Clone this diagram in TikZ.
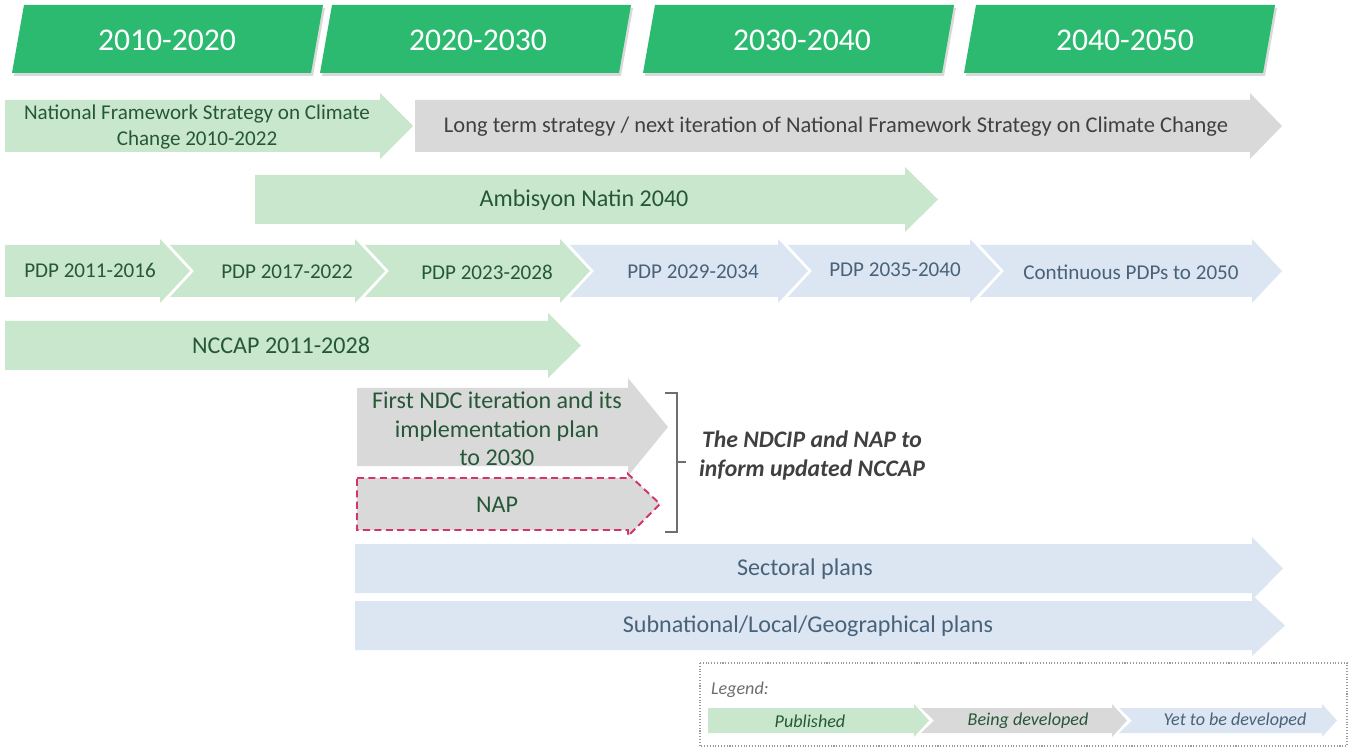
\documentclass[tikz,border=0pt]{standalone}
\usepackage{fontspec}
\setmainfont{Carlito}
\definecolor{hdr}{RGB}{44,186,112}
\definecolor{pub}{RGB}{200,231,205}
\definecolor{dev}{RGB}{217,217,217}
\definecolor{todo}{RGB}{220,230,242}
\definecolor{txtgreen}{RGB}{38,88,56}
\definecolor{txtblue}{RGB}{72,98,122}
\definecolor{txtgrey}{RGB}{64,64,64}
\definecolor{napred}{RGB}{214,51,108}
\definecolor{darkgrey}{RGB}{110,110,110}
\usepackage{tikz}
\usetikzlibrary{positioning}
\tikzstyle{base}=[x=0.02cm, y=-0.02cm, inner sep=0pt, outer sep=0pt]
\tikzstyle{period}=[text=white, font=\fontsize{18}{20}\selectfont]
\tikzstyle{lbl}=[text=txtgreen, font=\fontsize{12}{14.5}\selectfont, align=center]
\tikzstyle{big}=[font=\fontsize{13.7}{16.2}\selectfont]
\tikzstyle{lblblue}=[lbl, text=txtblue]
\tikzstyle{lblgrey}=[lbl, text=txtgrey]
\tikzstyle{legtxt}=[font=\fontsize{10.3}{12}\selectfont\itshape]
\newcommand*{\blockarrow}[7]{%
    \fill[#1] (#2,#5) -- (#3,#5) -- (#3,{#5-#7}) -- (#4,{(#5+#6)/2})
        -- (#3,{#6+#7}) -- (#3,#6) -- (#2,#6) -- cycle;}
\newcommand*{\chevbox}[8]{%
    \fill[#1] (#2,#5) -- (#3,#5) -- (#3,{#5-#7}) -- (#4,{(#5+#6)/2})
        -- (#3,{#6+#7}) -- (#3,#6) -- (#2,#6) -- ({#2+#8},{(#5+#6)/2}) -- cycle;}
\newcommand*{\period}[1]{%
    \fill[black, opacity=0.15] (#1+2,76) -- (#1+14,8) -- (#1+313,8) -- (#1+301,76) -- cycle;
    \fill[hdr] (#1,73) -- (#1+12,5) -- (#1+311,5) -- (#1+299,73) -- cycle;}
\begin{document}
\begin{tikzpicture}[base]
    \path [use as bounding box] (0,0) rectangle (1351,749);
    % periods
    \period{12}
    \period{320}
    \period{643}
    \period{964}
    \node [period] (p1) at (167,40) {2010-2020};
    \node [period] (p2) at (478,40) {2020-2030};
    \node [period] (p3) at (802,40) {2030-2040};
    \node [period] (p4) at (1125,40) {2040-2050};
    % strategy
    \blockarrow{pub}{5}{380}{413}{100}{152}{7}
    \blockarrow{dev}{415}{1250}{1282}{100}{152}{7}
    \node [lbl] (nfs) at (197,127) {National Framework Strategy on Climate\\Change 2010-2022};
    \node [lblgrey, font=\fontsize{12.8}{15}\selectfont] (lts) at (836,127) {Long term strategy / next iteration of National Framework Strategy on Climate Change};
    % ambisyon
    \blockarrow{pub}{255}{905}{938}{175}{224}{8}
    \node [lbl, big] (amb) at (584,200) {Ambisyon Natin 2040};
    % PDPs
    \blockarrow{pub}{5}{160}{190}{245}{297}{6}
    \chevbox{pub}{170}{355}{385}{245}{297}{6}{24}
    \chevbox{pub}{365}{560}{590}{245}{297}{6}{24}
    \chevbox{todo}{570}{778}{808}{245}{297}{6}{24}
    \chevbox{todo}{788}{970}{1000}{245}{297}{6}{24}
    \chevbox{todo}{980}{1252}{1282}{245}{297}{6}{24}
    \node [lbl] (pdp1) at (90,270) {PDP 2011-2016};
    \node [lbl] (pdp2) at (287,272) {PDP 2017-2022};
    \node [lbl] (pdp3) at (487,272) {PDP 2023-2028};
    \node [lblblue] (pdp4) at (693,272) {PDP 2029-2034};
    \node [lblblue] (pdp5) at (895,270) {PDP 2035-2040};
    \node [lblblue] (pdp6) at (1131,272) {Continuous PDPs to 2050};
    % NCCAP
    \blockarrow{pub}{5}{548}{581}{321}{370}{8}
    \node [lbl, big] (nccap) at (281,345) {NCCAP 2011-2028};
    % NDC and NAP
    \blockarrow{dev}{357}{628}{668}{388}{466}{10}
    \node [lbl, big] (ndc) at (497,429) {First NDC iteration and its\\implementation plan\\to 2030};
    \draw [napred, line width=1.1pt, dash pattern=on 4pt off 2.5pt, fill=dev]
        (357,478) -- (628,478) -- (628,474) -- (660,504) -- (628,536) -- (628,530) -- (357,530) -- cycle;
    \node [lbl, big] (nap) at (497,505) {NAP};
    \coordinate (btop) at (665,393);
    \coordinate (bbot) at (665,532);
    \coordinate (bmid) at (677,462);
    \draw [darkgrey, line width=1pt] (btop) -- (btop -| bmid) -- (bbot -| bmid) -- (bbot);
    \draw [darkgrey, line width=1pt] (bmid) -- ++(9,0);
    \node [text=txtgrey, font=\fontsize{13.5}{16.5}\selectfont\bfseries\itshape, align=center]
        (inform) at (812,456) {The NDCIP and NAP to\\inform updated NCCAP};
    % sectoral and local
    \blockarrow{todo}{355}{1252}{1283}{544}{593}{7}
    \blockarrow{todo}{355}{1252}{1285}{601}{650}{6}
    \node [lblblue, big] (sect) at (805,569) {Sectoral plans};
    \node [lblblue, big] (local) at (808,626) {Subnational/Local/Geographical plans};
    % legend
    \draw [darkgrey!70, densely dotted, line width=0.6pt] (700,663) rectangle (1347,746);
    \node [legtxt, text=darkgrey, anchor=west] (leg) at (711,690) {Legend:};
    \blockarrow{pub}{708}{914}{929}{708}{733}{4}
    \chevbox{dev}{921}{1112}{1127}{708}{733}{4}{13}
    \chevbox{todo}{1119}{1322}{1337}{708}{733}{4}{13}
    \node [legtxt, text=txtgreen] (lpub) at (810,721) {Published};
    \node [legtxt, text=txtgreen] (ldev) at (1028,721) {Being developed};
    \node [legtxt, text=txtblue] (ltodo) at (1235,721) {Yet to be developed};
\end{tikzpicture}
\end{document}
